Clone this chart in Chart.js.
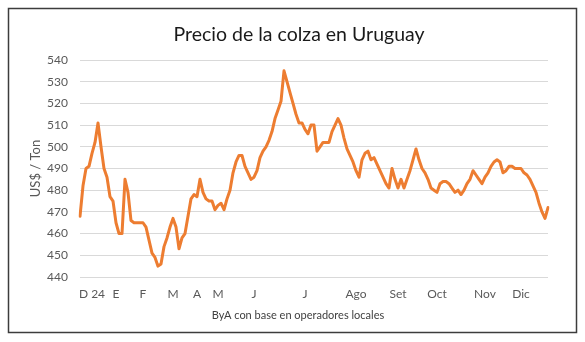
<!DOCTYPE html>
<html>
<head>
<meta charset="utf-8">
<script src="https://cdn.jsdelivr.net/npm/chart.js@4"></script>
<style>
html, body { margin: 0; padding: 0; background: #fff; }
</style>
</head>
<body>
<canvas id="colzaChart" width="585" height="342"></canvas>
<script>
// datos (US$ / Ton)
var precios = [
  468, 482, 490, 491, 497, 502, 511, 500, 490, 486,
  477, 475, 465, 460, 460, 485, 479, 466, 465, 465,
  465, 465, 463, 457, 451, 449, 445, 446, 454, 458,
  463, 467, 463, 453, 458, 460, 468, 476, 478, 477,
  485, 479, 476, 475, 475, 471, 473, 474, 471, 476,
  480, 488, 493, 496, 496, 491, 488, 485, 486, 489,
  495, 498, 500, 503, 507, 513, 517, 521, 535, 530,
  525, 520, 515, 511, 511, 508, 506, 510, 510, 498,
  500, 502, 502, 502, 507, 510, 513, 510, 504, 499,
  496, 493, 489, 486, 494, 497, 498, 494, 495, 492,
  489, 486, 483, 481, 490, 485, 481, 485, 481, 485,
  489, 494, 499, 494, 490, 488, 485, 481, 480, 479,
  483, 484, 484, 483, 481, 479, 480, 478, 480, 483,
  485, 489, 487, 485, 483, 486, 488, 491, 493, 494,
  493, 488, 489, 491, 491, 490, 490, 490, 488, 487,
  485, 482, 479, 474, 470, 467, 472
];

// etiquetas de meses y la posición (índice) donde aparecen
var mesesTexto = ['D 24', 'E', 'F', 'M', 'A', 'M', 'J', 'J', 'Ago', 'Set', 'Oct', 'Nov', 'Dic'];
var mesesIndice = [4, 12, 21, 31, 39, 46, 58, 75, 92, 106, 119, 135, 147];

var yTicks = [440, 450, 460, 470, 480, 490, 500, 510, 520, 530, 540];

var titulo = 'Precio de la colza en Uruguay';
var fuente = 'ByA con base en operadores locales';

// armar categorías
var categorias = precios.map(function () { return ''; });
mesesIndice.forEach(function (idx, i) {
    categorias[idx] = mesesTexto[i];
});

var FONT = 'Lato, "Open Sans", sans-serif';

// marco, título y fuente
var marcoPlugin = {
    id: 'marco',
    afterDraw: function (chart) {
        var ctx = chart.ctx;
        ctx.save();
        ctx.strokeStyle = '#3c3c3c';
        ctx.lineWidth = 1.5;
        ctx.strokeRect(8.5, 8.5, 568, 324);

        ctx.fillStyle = '#1a1a1a';
        ctx.font = '19.5px ' + FONT;
        ctx.textAlign = 'center';
        ctx.textBaseline = 'alphabetic';
        ctx.fillText(titulo, 299, 41);

        ctx.fillStyle = '#404040';
        ctx.font = '11px ' + FONT;
        ctx.fillText(fuente, 298, 319);
        ctx.restore();
    }
};

var ctx = document.getElementById('colzaChart').getContext('2d');
var myChart = new Chart(ctx, {
    type: 'line',
    data: {
        labels: categorias,
        datasets: [{
            label: 'Precio',
            data: precios,
            borderColor: '#ED7D31',
            backgroundColor: '#ED7D31',
            borderWidth: 3,
            pointRadius: 0,
            tension: 0,
            borderJoinStyle: 'round',
            borderCapStyle: 'round'
        }]
    },
    options: {
        responsive: false,
        animation: false,
        layout: {
            padding: { left: 0, right: 37, top: 60, bottom: 0 }
        },
        plugins: {
            legend: { display: false },
            tooltip: { enabled: false }
        },
        scales: {
            x: {
                offset: false,
                grid: { display: false, drawTicks: false },
                border: { display: false },
                ticks: {
                    autoSkip: false,
                    minRotation: 0,
                    maxRotation: 0,
                    padding: 10,
                    color: '#595959',
                    font: { family: FONT, size: 12 }
                },
                afterFit: function (scale) { scale.height = 65; }
            },
            y: {
                min: 440,
                max: 540,
                afterBuildTicks: function (scale) {
                    scale.ticks = yTicks.map(function (v) { return { value: v }; });
                },
                grid: { color: '#D9D9D9', lineWidth: 1, drawTicks: false },
                border: { display: false },
                ticks: {
                    padding: 12,
                    color: '#595959',
                    font: { family: FONT, size: 12 }
                },
                title: {
                    display: true,
                    text: 'US$ / Ton',
                    color: '#595959',
                    font: { family: FONT, size: 13 },
                    padding: { top: 28, bottom: 0 }
                },
                afterFit: function (scale) { scale.width = 80; }
            }
        }
    },
    plugins: [marcoPlugin]
});
</script>
</body>
</html>
